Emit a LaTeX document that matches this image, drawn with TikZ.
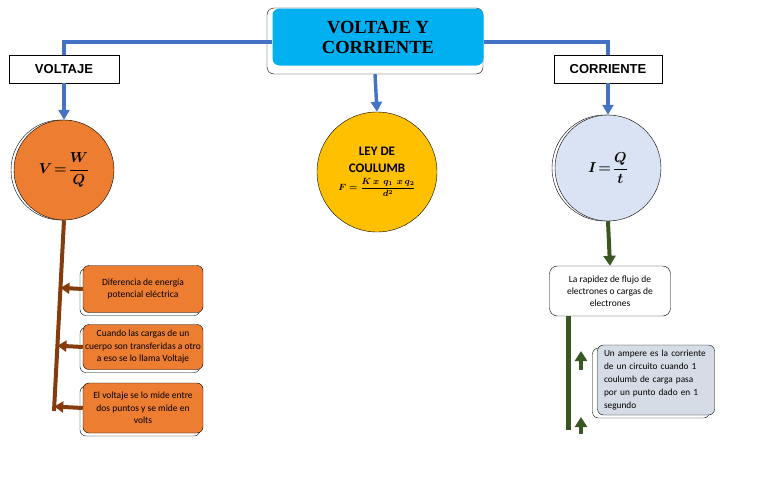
\documentclass[tikz,border=0pt]{standalone}
\usepackage{fontspec}
\usepackage{amsmath}
\usetikzlibrary{arrows.meta,calc}
\newfontfamily\carlito{Carlito}
\newfontfamily\arialfont{Liberation Sans}
\newfontfamily\timesfont{Liberation Serif}
\definecolor{linkblue}{HTML}{4472C4}
\definecolor{titleblue}{HTML}{00B0F0}
\definecolor{vorange}{HTML}{ED7D31}
\definecolor{cyellow}{HTML}{FFC000}
\definecolor{ilight}{HTML}{DAE3F3}
\definecolor{agray}{HTML}{D6DCE5}
\definecolor{vbrown}{HTML}{843C0C}
\definecolor{igreen}{HTML}{385723}
\newcommand{\vformula}{$\displaystyle\boldsymbol{V\!=\!\frac{W}{Q}}$}
\newcommand{\iformula}{$\displaystyle\boldsymbol{I\!=\!\frac{Q}{t}}$}
\newcommand{\fformula}{$\displaystyle\boldsymbol{F=\frac{K\ x\ \ q_1\ \,x\,q_2}{d^2}}$}
\begin{document}
\begin{tikzpicture}[x=1pt,y=-1pt,
		tagbox/.style={draw=black,fill=white,minimum height=28pt,font=\arialfont\bfseries\fontsize{13}{15}\selectfont},
		bigcirc/.style={circle,draw=black,inner sep=0pt},
		notebox/.style={rounded corners=6pt,draw=black,align=center,font=\carlito\fontsize{9.5}{12.5}\selectfont},
		backbox/.style={rounded corners=6pt,draw=black,fill=white},
		bluelink/.style={linkblue,line width=3.4pt},
		bluearrow/.style={linkblue,line width=3.4pt,-{Triangle[width=11pt,length=10pt]}},
		brownarrow/.style={vbrown,line width=4pt,-{Triangle[width=11pt,length=9pt]}},
		greenarrow/.style={igreen,line width=4pt,-{Triangle[width=12pt,length=10pt]}}]
		\useasboundingbox (0,0) rectangle (776,477);
		\node [rounded corners=7pt,draw=black,fill=white,minimum width=216pt,minimum height=66pt] (titleback) at (375,41) {};
		\node [rounded corners=7pt,fill=titleblue,minimum width=211pt,minimum height=57pt,align=center,font=\timesfont\bfseries\fontsize{18.5}{20}\selectfont] (title) at (378,37) {VOLTAJE Y\\CORRIENTE};
		\node [tagbox,minimum width=110pt] (voltaje) at (64,69) {VOLTAJE};
		\node [tagbox,minimum width=108pt] (corriente) at (608,69) {CORRIENTE};
		\node [bigcirc,fill=white,minimum size=100pt] (vback) at (61,170) {};
		\node [bigcirc,fill=vorange,minimum size=100pt,font=\fontsize{14}{17}\selectfont] (vcirc) at (64,170) {\vformula};
		\node [bigcirc,fill=cyellow,minimum size=120pt,align=center,font=\carlito\bfseries\fontsize{13}{17}\selectfont] (ley) at (377,172) {LEY DE\\COULUMB\\[1pt]{\fontsize{9}{10}\selectfont\fformula}};
		\node [bigcirc,fill=white,minimum size=106pt] (iback) at (605,168) {};
		\node [bigcirc,fill=ilight,minimum size=106pt,font=\fontsize{14}{17}\selectfont] (icirc) at (608,168) {\iformula};
		\node [rounded corners=8pt,draw=black,fill=white,minimum width=121pt,minimum height=50pt,align=center,font=\carlito\fontsize{9.5}{12}\selectfont] (rapidez) at (610,291) {La rapidez de flujo de\\electrones o cargas de\\electrones};
		\node [backbox,minimum width=117pt,minimum height=70pt] (ampback) at (651,383) {};
		\node [notebox,fill=agray,minimum width=117pt,minimum height=70pt,text width=104pt,align=left,font=\carlito\fontsize{9.3}{13}\selectfont] (ampere) at (656,380) {Un ampere es la corriente\\de un circuito cuando 1\\coulumb de carga pasa\\por un punto dado en 1\\segundo};
		\node [backbox,minimum width=120pt,minimum height=47pt] (d1back) at (140,292) {};
		\node [notebox,fill=vorange,minimum width=120pt,minimum height=47pt] (d1) at (143,289) {Diferencia de energía\\potencial eléctrica};
		\node [backbox,minimum width=120pt,minimum height=45pt] (d2back) at (140,350) {};
		\node [notebox,fill=vorange,minimum width=120pt,minimum height=45pt,inner sep=0pt] (d2) at (143,347) {Cuando las cargas de un\\cuerpo son transferidas a otro\\a eso se lo llama Voltaje};
		\node [backbox,minimum width=120pt,minimum height=50pt] (d3back) at (140,411) {};
		\node [notebox,fill=vorange,minimum width=120pt,minimum height=50pt] (d3) at (143,408) {El voltaje se lo mide entre\\dos puntos y se mide en\\volts};
		\draw [bluelink] ([yshift=-5pt]title.west) -| (voltaje.north);
		\draw [bluelink] ([yshift=-5pt]title.east) -| (corriente.north);
		\draw [bluearrow] (voltaje.south) -- (vcirc.north);
		\draw [bluearrow] (titleback.south) -- (ley.north);
		\draw [bluearrow] (corriente.south) -- (icirc.north);
		\coordinate (vend) at (54,411);
		\draw [vbrown,line width=4pt] (vcirc.south) -- (vend);
		\draw [brownarrow] (d1.west) -- ($(vcirc.south)!(d1.west)!(vend)$);
		\draw [brownarrow] (d2.west) -- ($(vcirc.south)!(d2.west)!(vend)$);
		\draw [brownarrow] (d3.west) -- ($(vcirc.south)!(d3.west)!(vend)$);
		\draw [greenarrow] (icirc.south) -- (rapidez.north);
		\coordinate (gend) at (568,430);
		\draw [igreen,line width=5pt] (rapidez.south -| gend) -- (gend);
		\coordinate (u1a) at (581,370);
		\coordinate (u1b) at (581,351);
		\coordinate (u2a) at (581,434);
		\coordinate (u2b) at (581,417);
		\draw [greenarrow] (u1a) -- (u1b);
		\draw [greenarrow] (u2a) -- (u2b);
\end{tikzpicture}
\end{document}
